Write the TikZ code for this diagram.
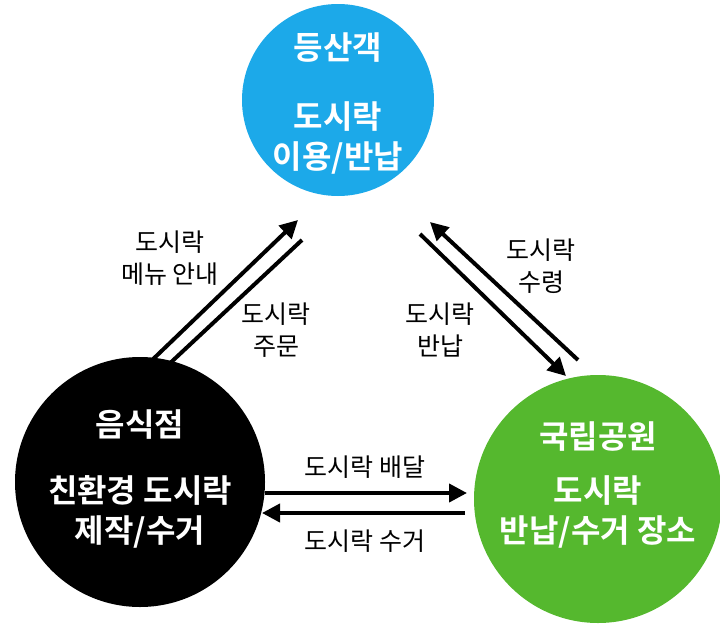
\documentclass[tikz,border=0pt]{standalone}
\usepackage{fontspec}
\setmainfont{Noto Sans CJK KR}
\newfontfamily\kb{Noto Sans CJK KR Bold}
\usetikzlibrary{arrows.meta}
\definecolor{cblue}{HTML}{1CA9E9}
\definecolor{cgreen}{HTML}{55B82E}
\begin{document}
\begin{tikzpicture}[x=1pt,y=-1pt,
  circ/.style={circle,minimum size=#1,inner sep=0pt},
  ctext/.style={text=white,font=\kb\fontsize{32}{40}\selectfont,align=center},
  lbl/.style={font=\fontsize{25}{32}\selectfont,align=center},
  arr/.style={line width=4pt,-{Triangle[length=18pt,width=18pt]}}]
\useasboundingbox (0,0) rectangle (720,624);
\node[circ=192pt,fill=cblue] (top) at (338,100) {};
\node[circ=250pt,fill=black] (left) at (140,482) {};
\node[circ=248pt,fill=cgreen] (right) at (598,499) {};
\node[ctext] (t1) at (338,48) {등산객};
\node[ctext] (t2) at (338,138) {도시락\\이용/반납};
\node[ctext] (l1) at (140,425) {음식점};
\node[ctext] (l2) at (140,512) {친환경 도시락\\제작/수거};
\node[ctext] (r1) at (598,437) {국립공원};
\node[ctext] (r2) at (598,512) {도시락\\반납/수거 장소};
\coordinate (a1s) at (148,364); \coordinate (a1e) at (298,220);
\coordinate (a2s) at (302,240); \coordinate (a2e) at (152,380);
\coordinate (a3s) at (420,234); \coordinate (a3e) at (566,376);
\coordinate (a4s) at (578,360); \coordinate (a4e) at (430,222);
\coordinate (a5s) at (265,493); \coordinate (a5e) at (467,493);
\coordinate (a6s) at (465,513); \coordinate (a6e) at (262,513);
\draw[arr] (a1s) -- (a1e);
\draw[arr] (a2s) -- (a2e);
\draw[arr] (a3s) -- (a3e);
\draw[arr] (a4s) -- (a4e);
\draw[arr] (a5s) -- (a5e);
\draw[arr] (a6s) -- (a6e);
\node[lbl] (m1) at (170,258) {도시락\\메뉴 안내};
\node[lbl] (m2) at (276,330) {도시락\\주문};
\node[lbl] (m3) at (440,330) {도시락\\반납};
\node[lbl] (m4) at (541,266) {도시락\\수령};
\node[lbl] (m5) at (365,467) {도시락 배달};
\node[lbl] (m6) at (365,541) {도시락 수거};
\end{tikzpicture}
\end{document}
